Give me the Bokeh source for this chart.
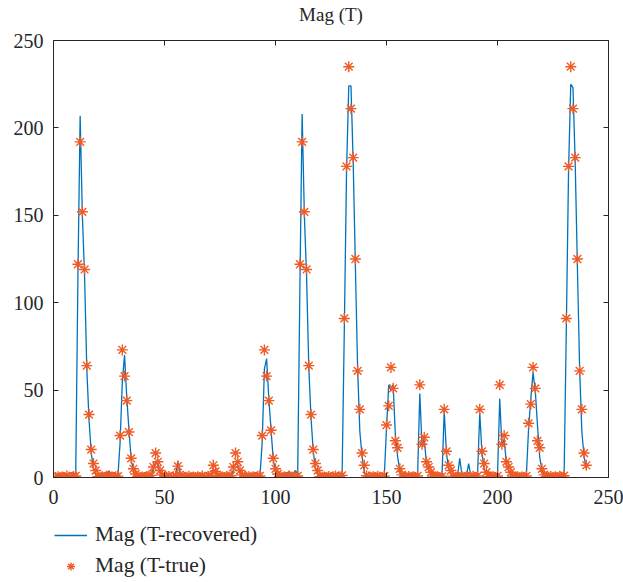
from bokeh.plotting import figure
from bokeh.layouts import column
from bokeh.models import Range1d, LinearAxis, FixedTicker, Legend, LegendItem
from bokeh.embed import file_html
from bokeh.resources import INLINE

# sample index 1..240
x = list(range(1, 241))

mag_true = [
    0.0, 0.5, 0.0, 0.3, 0.0, 0.8, 0.2, 0.0, 0.6, 0.9,
    122, 192, 152, 119, 64, 36, 16, 8, 4, 0.5,
    0.0, 0.4, 0.0, 0.7, 1.0, 0.3, 0.0, 0.5, 0.8, 24,
    73, 58, 44, 26, 11, 5, 2, 0.6, 0.0, 0.3,
    0.0, 0.5, 0.9, 1.2, 6, 14, 9, 4, 1.5, 0.3,
    0.0, 0.6, 0.0, 0.4, 0.9, 6.5, 1.5, 0.4, 0.0, 0.2,
    0.7, 0.0, 0.3, 0.0, 0.5, 0.0, 0.8, 0.2, 0.0, 0.6,
    1.2, 7, 3.5, 0.8, 0.0, 0.3, 0.0, 0.6, 0.2, 1.0,
    6, 14, 9, 4, 1.5, 0.3, 0.0, 0.5, 0.0, 0.4,
    0.0, 0.7, 0.9, 24, 73, 58, 44, 27, 11, 5,
    2, 0.6, 0.0, 0.4, 0.0, 0.8, 0.3, 0.0, 0.5, 0.9,
    122, 192, 152, 119, 64, 36, 16, 8, 4, 0.5,
    0.0, 0.3, 0.0, 0.6, 0.0, 0.4, 0.8, 0.0, 0.3, 1.2,
    91, 178, 235, 211, 183, 125, 61, 39, 14, 7,
    1.0, 0.3, 0.0, 0.5, 0.0, 0.7, 0.2, 0.0, 0.8, 30,
    41, 63, 51, 21, 17, 5, 1.5, 0.3, 0.0, 0.6,
    0.0, 0.4, 0.0, 0.9, 53, 19, 23, 9, 6, 3,
    0.8, 0.0, 0.4, 0.0, 0.7, 39, 15, 7, 4, 0.8,
    0.0, 0.3, 0.0, 0.6, 0.0, 0.5, 0.2, 0.0, 0.7, 0.0,
    0.9, 39, 15, 8, 3, 0.5, 0.0, 0.4, 0.0, 0.9,
    53, 19, 24, 9, 6, 3, 0.8, 0.0, 0.5, 0.0,
    0.3, 0.0, 0.9, 31, 42, 63, 51, 21, 17, 5,
    1.5, 0.3, 0.0, 0.6, 0.0, 0.4, 0.0, 0.7, 0.2, 1.0,
    91, 178, 235, 211, 183, 125, 61, 39, 14, 7,
]

mag_recovered = [
    0.3, 0.5, 0.2, 0.4, 0.3, 0.6, 0.4, 1.5, 3.0, 1.0,
    115, 207, 150, 115, 62, 33, 14, 5, 2, 0.8,
    0.5, 1.0, 1.5, 2.5, 3.5, 1.5, 0.8, 0.5, 0.5, 20,
    55, 70, 46, 27, 10, 4, 1.5, 0.8, 0.5, 0.4,
    0.5, 0.6, 1.0, 2.0, 5, 9, 8, 3, 1.0, 0.5,
    0.4, 0.5, 0.4, 0.6, 1.0, 9.5, 2.0, 0.6, 0.4, 0.3,
    0.5, 0.4, 0.3, 0.4, 0.5, 0.4, 0.6, 0.5, 0.4, 0.6,
    1.5, 5, 2.5, 0.8, 0.4, 0.3, 0.4, 0.5, 0.6, 1.5,
    4, 8, 7, 3, 1.2, 0.5, 0.4, 0.3, 0.4, 0.5,
    0.4, 0.5, 0.8, 20, 62, 68, 45, 27, 10, 4,
    2, 1.0, 0.6, 1.0, 2.0, 3.5, 1.5, 2.5, 4.0, 2.0,
    110, 208, 150, 115, 63, 34, 15, 5, 2, 1.0,
    2.0, 1.5, 0.8, 0.5, 0.4, 0.5, 0.6, 0.5, 0.8, 1.5,
    85, 175, 224, 224, 180, 120, 62, 26, 12, 3,
    0.8, 0.5, 0.4, 0.5, 0.4, 0.5, 0.4, 0.5, 0.8, 28,
    53, 50, 53, 24, 12, 4, 1.0, 0.5, 0.4, 0.5,
    0.4, 0.5, 0.4, 0.8, 48, 18, 22, 8, 4, 1.0,
    0.5, 0.4, 0.5, 0.4, 0.8, 38, 14, 5, 2, 0.8,
    0.5, 1.0, 11, 1.0, 0.5, 1.0, 8, 1.0, 0.5, 0.4,
    0.8, 37, 14, 5, 2, 0.8, 0.5, 0.4, 0.5, 0.8,
    45, 18, 22, 8, 4, 1.0, 0.5, 0.4, 0.5, 0.6,
    1.5, 2.0, 1.0, 28, 45, 60, 50, 30, 12, 4,
    2.0, 2.0, 1.5, 2.0, 1.0, 1.5, 0.8, 0.5, 0.6, 1.0,
    85, 175, 225, 223, 180, 120, 62, 26, 12, 5,
]

x_ticks = [0, 50, 100, 150, 200, 250]
y_ticks = [0, 50, 100, 150, 200, 250]

title_text = "Mag (T)"
label_recovered = "Mag (T-recovered)"
label_true = "Mag (T-true)"

FONT = "Liberation Serif"
INK = "#262626"
BLUE = "#0072BD"
ORANGE = "#F05A24"

LINE_STYLE = dict(line_color=BLUE, line_width=1.3)
STAR_STYLE = dict(marker="asterisk", size=11, line_color=ORANGE, line_width=1.4)

# ---- main axes -------------------------------------------------------------
p = figure(
    width=623, height=517,
    output_backend="svg", toolbar_location=None,
    x_range=Range1d(0, 250), y_range=Range1d(0, 250),
    x_axis_location=None, y_axis_location=None,
    min_border_left=53, min_border_right=15,
    min_border_top=40, min_border_bottom=40,
    background_fill_color="white", border_fill_color="white",
)
p.outline_line_color = None
p.grid.grid_line_color = None

# box-style axes on all four sides with inward ticks
bottom_axis = LinearAxis(ticker=FixedTicker(ticks=x_ticks))
left_axis = LinearAxis(ticker=FixedTicker(ticks=y_ticks))
top_axis = LinearAxis(ticker=FixedTicker(ticks=x_ticks))
right_axis = LinearAxis(ticker=FixedTicker(ticks=y_ticks))
p.add_layout(bottom_axis, "below")
p.add_layout(left_axis, "left")
p.add_layout(top_axis, "above")
p.add_layout(right_axis, "right")

for ax in [bottom_axis, left_axis, top_axis, right_axis]:
    ax.axis_line_color = INK
    ax.axis_line_width = 1
    ax.major_tick_line_color = INK
    ax.major_tick_in = 5
    ax.major_tick_out = 0
    ax.minor_tick_line_color = None
    ax.major_label_text_font = FONT
    ax.major_label_text_font_size = "20px"
    ax.major_label_text_color = INK

bottom_axis.major_label_standoff = 12
left_axis.major_label_standoff = 10

for ax in [top_axis, right_axis]:
    ax.major_label_text_font_size = "0px"
    ax.major_label_standoff = 0
    ax.major_label_text_alpha = 0

# chart title carried by the top axis label
top_axis.axis_label = title_text
top_axis.axis_label_text_font = FONT
top_axis.axis_label_text_font_size = "19px"
top_axis.axis_label_text_font_style = "normal"
top_axis.axis_label_text_color = INK
top_axis.axis_label_standoff = 16

p.line(x, mag_recovered, **LINE_STYLE)
p.scatter(x, mag_true, **STAR_STYLE)

# ---- legend strip beneath the axes ----------------------------------------
# same series, viewed through a window that holds none of their values,
# so only the legend entries show
leg = figure(
    width=623, height=65,
    output_backend="svg", toolbar_location=None,
    x_range=Range1d(0, 1), y_range=Range1d(1000, 1001),
    x_axis_location=None, y_axis_location=None,
    min_border=0, background_fill_color="white", border_fill_color="white",
)
leg.outline_line_color = None
leg.grid.grid_line_color = None
leg_line = leg.line(x, mag_recovered, **LINE_STYLE)
leg_star = leg.scatter(x, mag_true, **STAR_STYLE)

legend = Legend(
    items=[LegendItem(label=label_recovered, renderers=[leg_line]),
           LegendItem(label=label_true, renderers=[leg_star])],
    location=(1, 4),
    orientation="vertical",
    background_fill_alpha=0, border_line_color=None,
    padding=0, margin=0, spacing=6,
    glyph_width=33, glyph_height=20, label_standoff=8,
    label_text_font=FONT, label_text_font_size="21.5px", label_text_color=INK,
)
leg.add_layout(legend)

open("out.html", "w").write(file_html(column(p, leg, spacing=0), INLINE))
